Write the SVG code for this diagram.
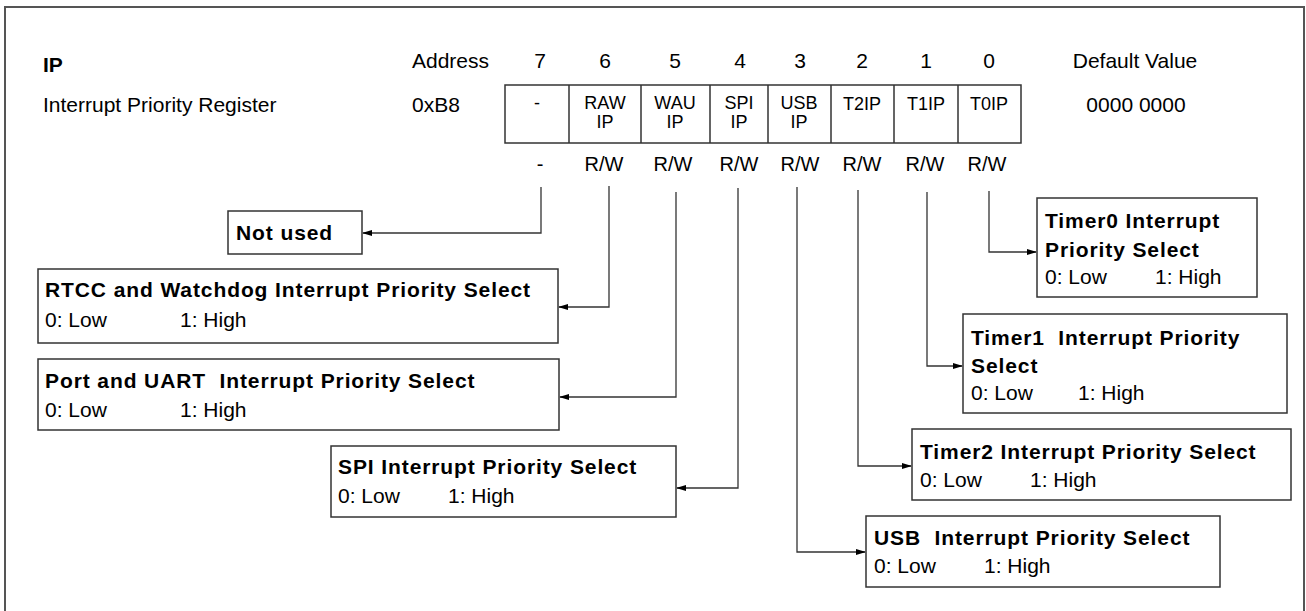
<svg xmlns="http://www.w3.org/2000/svg" width="1306" height="611" viewBox="0 0 1306 611">
<defs>
<marker id="arr" markerWidth="10" markerHeight="8" refX="9" refY="4" orient="auto" markerUnits="userSpaceOnUse">
<path d="M0,1 L10,4 L0,7 Z" fill="#000"/>
</marker>
<style>
text{font-family:"Liberation Sans",Arial,sans-serif;font-size:21px;fill:#000;white-space:pre}
.b{font-weight:bold;letter-spacing:0.9px}
.c{text-anchor:middle}
.cell{font-size:18px;text-anchor:middle}
.rw{font-size:20px;text-anchor:middle}
.box{fill:#fff;stroke:#333;stroke-width:1.5}
.con{fill:none;stroke:#333;stroke-width:1.3;marker-end:url(#arr)}
</style>
</defs>
<rect x="5" y="7" width="1299" height="640" fill="#fff" stroke="#555" stroke-width="2"/>
<g id="header">
<text x="43" y="72" style="font-weight:bold">IP</text>
<text x="43" y="112">Interrupt Priority Register</text>
<text x="412" y="68">Address</text>
<text x="412" y="112">0xB8</text>
<text x="1135" y="68" class="c">Default Value</text>
<text x="1136" y="112" class="c">0000 0000</text>
<text x="540" y="68" class="c">7</text>
<text x="605" y="68" class="c">6</text>
<text x="675" y="68" class="c">5</text>
<text x="740" y="68" class="c">4</text>
<text x="800" y="68" class="c">3</text>
<text x="862" y="68" class="c">2</text>
<text x="926" y="68" class="c">1</text>
<text x="989" y="68" class="c">0</text>
</g>
<g id="register">
<rect x="505" y="85" width="516" height="58" class="box"/>
<path d="M569,85V143M641,85V143M710,85V143M768,85V143M831,85V143M894,85V143M958,85V143" stroke="#333" stroke-width="1.5"/>
<text x="537" y="109" class="cell">-</text>
<text x="605" y="109" class="cell">RAW</text><text x="605" y="128" class="cell">IP</text>
<text x="675" y="109" class="cell">WAU</text><text x="675" y="128" class="cell">IP</text>
<text x="739" y="109" class="cell">SPI</text><text x="739" y="128" class="cell">IP</text>
<text x="799" y="109" class="cell">USB</text><text x="799" y="128" class="cell">IP</text>
<text x="862" y="110" class="cell">T2IP</text>
<text x="926" y="110" class="cell">T1IP</text>
<text x="989" y="110" class="cell">T0IP</text>
<text x="540" y="171" class="rw">-</text>
<text x="604" y="171" class="rw">R/W</text>
<text x="673" y="171" class="rw">R/W</text>
<text x="739" y="171" class="rw">R/W</text>
<text x="800" y="171" class="rw">R/W</text>
<text x="862" y="171" class="rw">R/W</text>
<text x="925" y="171" class="rw">R/W</text>
<text x="987" y="171" class="rw">R/W</text>
</g>
<g id="connectors">
<path class="con" d="M541,187V233H363"/>
<path class="con" d="M609,186V307H559"/>
<path class="con" d="M676,192V397H560"/>
<path class="con" d="M738,188V488H677"/>
<path class="con" d="M797,187V552H865"/>
<path class="con" d="M858,190V466H911"/>
<path class="con" d="M927,192V366H962"/>
<path class="con" d="M989,191V252H1036"/>
</g>
<g id="not-used">
<rect x="228" y="211" width="134" height="43" class="box"/>
<text x="236" y="240" class="b">Not used</text>
</g>
<g id="rtcc">
<rect x="38" y="269" width="520" height="74" class="box"/>
<text x="45" y="297" class="b">RTCC and Watchdog Interrupt Priority Select</text>
<text x="45" y="327">0: Low</text><text x="180" y="327">1: High</text>
</g>
<g id="port">
<rect x="38" y="359" width="521" height="71" class="box"/>
<text x="45" y="388" class="b">Port and UART  Interrupt Priority Select</text>
<text x="45" y="417">0: Low</text><text x="180" y="417">1: High</text>
</g>
<g id="spi">
<rect x="331" y="446" width="345" height="71" class="box"/>
<text x="338" y="474" class="b">SPI Interrupt Priority Select</text>
<text x="338" y="503">0: Low</text><text x="448" y="503">1: High</text>
</g>
<g id="usb">
<rect x="866" y="516" width="354" height="71" class="box"/>
<text x="874" y="545" class="b">USB  Interrupt Priority Select</text>
<text x="874" y="573">0: Low</text><text x="984" y="573">1: High</text>
</g>
<g id="timer2">
<rect x="912" y="429" width="379" height="71" class="box"/>
<text x="920" y="459" class="b">Timer2 Interrupt Priority Select</text>
<text x="920" y="487">0: Low</text><text x="1030" y="487">1: High</text>
</g>
<g id="timer1">
<rect x="963" y="314" width="324" height="99" class="box"/>
<text x="971" y="345" class="b">Timer1  Interrupt Priority</text>
<text x="971" y="373" class="b">Select</text>
<text x="971" y="400">0: Low</text><text x="1078" y="400">1: High</text>
</g>
<g id="timer0">
<rect x="1037" y="198" width="220" height="99" class="box"/>
<text x="1045" y="228" class="b">Timer0 Interrupt</text>
<text x="1045" y="257" class="b">Priority Select</text>
<text x="1045" y="284">0: Low</text><text x="1155" y="284">1: High</text>
</g>
</svg>
